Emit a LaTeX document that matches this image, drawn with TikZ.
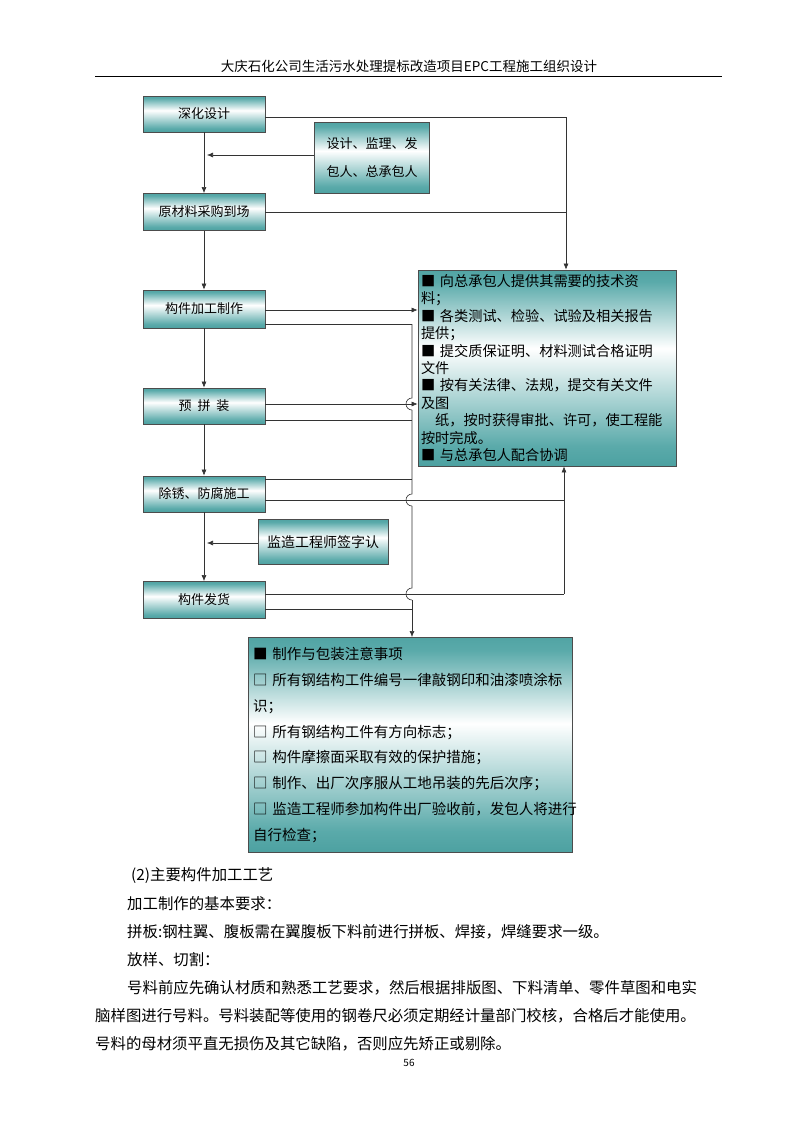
\documentclass[tikz,border=0pt]{standalone}
\usepackage{fontspec}
\setmainfont{Noto Sans CJK SC}
\usetikzlibrary{arrows.meta}
\definecolor{teal1}{RGB}{10,115,115}
\definecolor{teal2}{RGB}{90,170,170}
\pgfdeclareverticalshading{tw}{100bp}{color(0bp)=(teal1); color(30bp)=(teal2); color(55bp)=(white); color(72bp)=(teal2); color(100bp)=(teal1)}
\tikzset{
 box/.style={draw=black!70,line width=0.8pt,shading=tw,inner sep=0pt,font=\fontsize{13}{15}\selectfont},
 ln/.style={line width=0.6pt,black!80},
 ar/.style={ln,-{Latex[length=6pt,width=5pt]}},
 body/.style={anchor=west,font=\fontsize{15.4}{17}\selectfont,inner sep=0pt}
}
\begin{document}
\begin{tikzpicture}[x=1pt,y=-1pt]
\useasboundingbox (0,0) rectangle (800,1132);
\node[font=\fontsize{13.5}{15}\selectfont] (hdr) at (409,66) {大庆石化公司生活污水处理提标改造项目EPC工程施工组织设计};
\draw[line width=0.8pt] (95,76) -- (722,76);
% left column
\node[box,minimum width=122,minimum height=36] (a) at (204,114) {深化设计};
\node[box,minimum width=122,minimum height=37] (b) at (204,212) {原材料采购到场};
\node[box,minimum width=122,minimum height=38] (c) at (204,309) {构件加工制作};
\node[box,minimum width=122,minimum height=36] (d) at (204,406) {预\ \ 拼\ \ 装};
\node[box,minimum width=122,minimum height=36] (e) at (204,494) {除锈、防腐施工};
\node[box,minimum width=122,minimum height=37] (f) at (204,600) {构件发货};
\node[box,minimum width=115,minimum height=71,align=left,font=\fontsize{13}{28}\selectfont] (g) at (372,158) {设计、监理、发\\包人、总承包人};
\node[box,minimum width=130,minimum height=45,font=\fontsize{14}{16}\selectfont] (h) at (323,542) {监造工程师签字认};
\node[box,minimum width=258,minimum height=196,align=left,text width=252,font=\fontsize{14.2}{17.4}\selectfont] (r) at (547,368) {■\ 向总承包人提供其需要的技术资\\料；\\■\ 各类测试、检验、试验及相关报告\\提供；\\■\ 提交质保证明、材料测试合格证明\\文件\\■\ 按有关法律、法规，提交有关文件\\及图\\\hspace*{1em}纸，按时获得审批、许可，使工程能\\按时完成。\\■\ 与总承包人配合协调};
\node[box,minimum width=324,minimum height=215,align=left,text width=314,font=\fontsize{14.5}{25.8}\selectfont] (s) at (410,745) {■\ 制作与包装注意事项\\□\ 所有钢结构工件编号一律敲钢印和油漆喷涂标\\识；\\□\ 所有钢结构工件有方向标志；\\□\ 构件摩擦面采取有效的保护措施；\\□\ 制作、出厂次序服从工地吊装的先后次序；\\□\ 监造工程师参加构件出厂验收前，发包人将进行\\自行检查；};
% main vertical flow
\draw[ar] (a.south) -- (b.north);
\draw[ar] (b.south) -- (c.north);
\draw[ar] (c.south) -- (d.north);
\draw[ar] (d.south) -- (e.north);
\draw[ar] (e.south) -- (f.north);
\coordinate (gl) at (207,155);
\draw[ar] (g.west |- gl) -- (gl);
\coordinate (hl) at (207,543);
\draw[ar] (h.west |- hl) -- (hl);
% top-right collector
\coordinate (t1) at (566,117);
\draw[ln] (a.east |- t1) -- (t1);
\draw[ar] (t1) -- (r.north -| t1);
\coordinate (t2) at (566,212);
\draw[ln] (b.east |- t2) -- (t2);
% to right box
\coordinate (c1) at (0,310); \coordinate (d1) at (0,404);
\draw[ar] (c.east |- c1) -- (r.west |- c1);
\draw[ar] (d.east |- d1) -- (r.west |- d1);
% vertical collector at x=412
\coordinate (v0) at (412,324);
\draw[ln] (c.east |- v0) -- (v0);
\coordinate (v2) at (412,420); \draw[ln] (d.east |- v2) -- (v2);
\coordinate (v3) at (412,479); \draw[ln] (e.east |- v3) -- (v3);
\coordinate (v5) at (412,609); \draw[ln] (f.east |- v5) -- (v5);
\coordinate (vb) at (412,637);
\draw[ln] (v0) -- (412,398) arc[start angle=-90,end angle=-270,radius=6] ;
\draw[ln] (412,410) -- (412,494) arc[start angle=-90,end angle=-270,radius=6];
\draw[ln] (412,506) -- (412,588) arc[start angle=-90,end angle=-270,radius=6];
\draw[ar] (412,600) -- (vb);
% right collector at x=564
\coordinate (u1) at (564,500); \coordinate (u2) at (564,594);
\draw[ln] (e.east |- u1) -- (u1);
\draw[ln] (f.east |- u2) -- (u2);
\draw[ar] (u2) -- (r.south -| u2);
% body text
\node[body] (p1) at (131,876) {(2)主要构件加工工艺};
\node[body] (p2) at (127,904) {加工制作的基本要求：};
\node[body] (p3) at (127,932) {拼板:钢柱翼、腹板需在翼腹板下料前进行拼板、焊接，焊缝要求一级。};
\node[body] (p4) at (127,960) {放样、切割：};
\node[body] (p5) at (127,988) {号料前应先确认材质和熟悉工艺要求，然后根据排版图、下料清单、零件草图和电实};
\node[body] (p6) at (95,1016) {脑样图进行号料。号料装配等使用的钢卷尺必须定期经计量部门校核，合格后才能使用。};
\node[body] (p7) at (95,1044) {号料的母材须平直无损伤及其它缺陷，否则应先矫正或剔除。};
\node[font=\fontsize{10}{12}\selectfont] (pg) at (409,1063) {56};
\end{tikzpicture}
\end{document}
